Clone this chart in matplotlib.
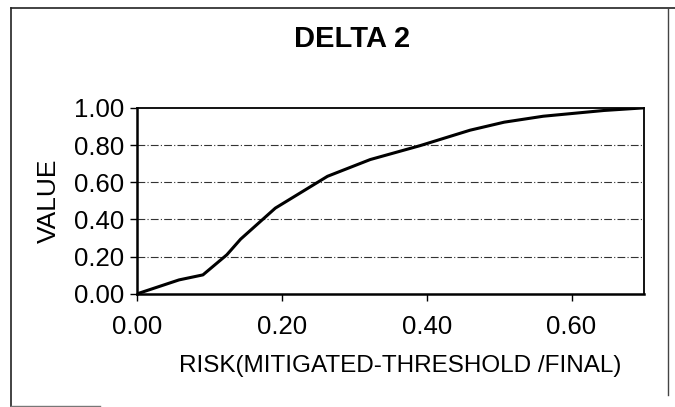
import matplotlib
matplotlib.use('Agg')
from matplotlib import pyplot as plt
from matplotlib.lines import Line2D

plt.rcParams['font.family'] = ['Liberation Sans', 'DejaVu Sans']

# values
risk = [0.00, 0.058, 0.091, 0.124, 0.143, 0.191, 0.263, 0.322, 0.391, 0.460, 0.507, 0.561, 0.645, 0.700]
value = [0.00, 0.075, 0.102, 0.21, 0.294, 0.461, 0.632, 0.722, 0.797, 0.88, 0.923, 0.955, 0.986, 1.00]
x_ticks = [0.0, 0.2, 0.4, 0.6]
y_ticks = [0.0, 0.2, 0.4, 0.6, 0.8, 1.0]

fig = plt.figure(figsize=(6.75, 4.07), dpi=100)
fig.patch.set_facecolor('white')
ax = fig.add_axes([0.203, 0.278, 0.751, 0.457])

# dash-dot gridlines like the old spreadsheet chart
for yv in y_ticks[1:-1]:
    ax.axhline(yv, color='#333333', linestyle=(0, (7, 2, 1, 2)), linewidth=0.8, zorder=1)

ax.plot(risk, value, color='black', linewidth=2.2, zorder=3)

ax.set_xlim(0, 0.7)
ax.set_ylim(0, 1.0)
ax.set_xticks(x_ticks)
ax.set_yticks(y_ticks)
ax.set_xticklabels([f'{t:.2f}' for t in x_ticks])
ax.set_yticklabels([f'{t:.2f}' for t in y_ticks])
ax.tick_params(axis='both', which='major', labelsize=18.5, length=5, width=1,
               direction='out', color='black')
ax.tick_params(axis='x', pad=10)
ax.tick_params(axis='y', pad=4)
for side in ['left', 'bottom']:
    ax.spines[side].set_linewidth(1.8)
for side in ['top', 'right']:
    ax.spines[side].set_linewidth(1.3)

ax.set_xlabel('RISK(MITIGATED-THRESHOLD /FINAL)', fontsize=17.5, va='center')
ax.xaxis.set_label_coords(0.519, -0.387)
ax.set_ylabel('VALUE', fontsize=19, va='center')
ax.yaxis.set_label_coords(-0.174, 0.5)
fig.text(0.521, 0.904, 'DELTA 2', fontsize=21, fontweight='bold',
         ha='center', va='center')

# outer chart border from the scan
fig.add_artist(Line2D([11 / 675, 11 / 675], [1 - 406 / 407, 1 - 8 / 407],
                      color='#222222', linewidth=1.2))
fig.add_artist(Line2D([11 / 675, 1.0], [1 - 8 / 407, 1 - 8 / 407],
                      color='#222222', linewidth=1.2))
fig.add_artist(Line2D([668 / 675, 668 / 675], [1 - 395 / 407, 1 - 8 / 407],
                      color='#444444', linewidth=1.0))
fig.add_artist(Line2D([11 / 675, 100 / 675], [1 - 406 / 407, 1 - 406 / 407],
                      color='#777777', linewidth=1.0))

plt.savefig('out.png', dpi=100, facecolor=fig.get_facecolor())
